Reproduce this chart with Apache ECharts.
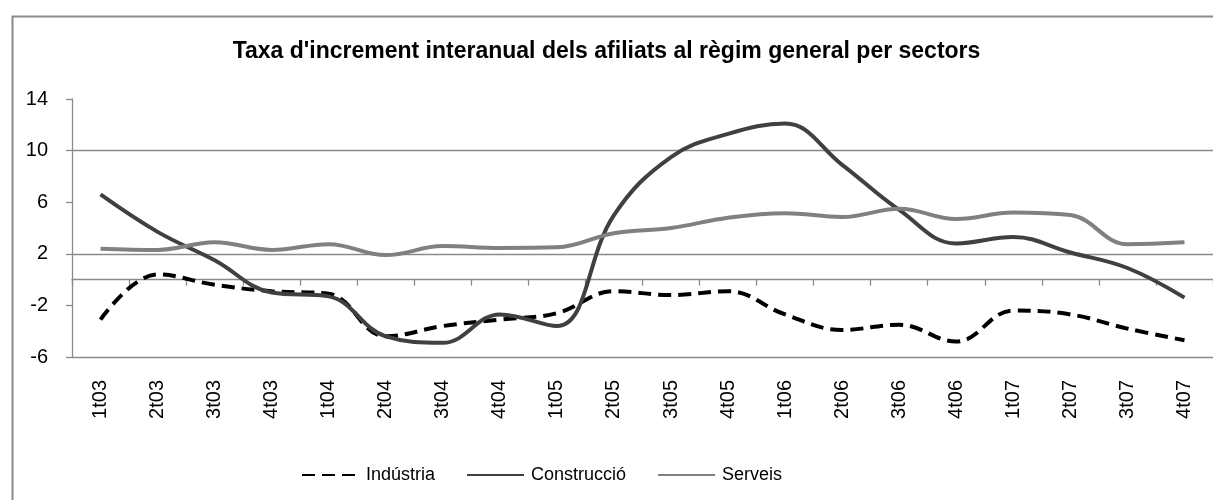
<!DOCTYPE html>
<html>
<head>
<meta charset="utf-8">
<script src="https://cdn.jsdelivr.net/npm/echarts@6/dist/echarts.min.js"></script>
<style>
  html, body { margin: 0; padding: 0; background: #fff; }
  #chart { width: 1213px; height: 500px; }
</style>
</head>
<body>
<div id="chart"></div>
<script>
var trimestres = ['1t03', '2t03', '3t03', '4t03', '1t04', '2t04', '3t04', '4t04', '1t05', '2t05',
                  '3t05', '4t05', '1t06', '2t06', '3t06', '4t06', '1t07', '2t07', '3t07', '4t07'];
var industria = [-3.1, 0.4, -0.4, -0.9, -1.1, -4.4, -3.6, -3.1, -2.6, -0.9,
                 -1.2, -0.9, -2.7, -3.9, -3.5, -4.8, -2.4, -2.7, -3.8, -4.7];
var construccio = [6.6, 3.7, 1.5, -1.0, -1.3, -4.4, -4.9, -2.7, -3.6, 5.0,
                   9.5, 11.3, 12.1, 8.9, 5.4, 2.8, 3.3, 2.1, 0.9, -1.4];
var serveis = [2.4, 2.3, 2.9, 2.3, 2.75, 1.9, 2.6, 2.45, 2.5, 3.6,
               4.0, 4.8, 5.15, 4.85, 5.5, 4.7, 5.2, 5.0, 2.75, 2.9];
var marquesY = [-6, -2, 2, 6, 10, 14];

var dom = document.getElementById('chart');
var myChart = echarts.init(dom, null, { renderer: 'canvas' });

var gris = '#8a8a8a';
var font = 'Liberation Sans, Arial, sans-serif';

var option = {
  animation: false,
  textStyle: { fontFamily: font },
  title: {
    text: "Taxa d'increment interanual dels afiliats al règim general per sectors",
    left: 'center',
    top: 35,
    textStyle: { fontSize: 23, fontWeight: 'bold', color: '#000', fontFamily: font }
  },
  graphic: [{
    type: 'rect',
    left: 10, top: 14,
    shape: { width: 1260, height: 560 },
    style: { fill: 'none', stroke: gris, lineWidth: 2 },
    silent: true
  }],
  legend: {
    left: 296,
    top: 461,
    itemWidth: 57,
    itemHeight: 4,
    itemGap: 31,
    itemStyle: { opacity: 0 },
    textStyle: { fontSize: 18, color: '#000', fontFamily: font, padding: [0, 0, 0, 2] },
    data: ['Indústria', 'Construcció', 'Serveis']
  },
  grid: { left: 72, top: 99, width: 1156, height: 258 },
  xAxis: [
    {
      type: 'category',
      data: trimestres,
      position: 'bottom',
      boundaryGap: true,
      axisLine: { show: false, onZero: false },
      axisTick: { show: false },
      axisLabel: { rotate: 90, margin: 23, fontSize: 20, color: '#000', fontFamily: font },
      splitLine: { show: false }
    },
    {
      type: 'category',
      data: trimestres,
      position: 'top',
      boundaryGap: true,
      axisLine: { show: true, onZero: true, lineStyle: { color: gris, width: 1.3 } },
      axisTick: { show: true, inside: true, length: 6, lineStyle: { color: gris, width: 1.3 } },
      axisLabel: { show: false },
      splitLine: { show: false }
    }
  ],
  yAxis: {
    type: 'value',
    min: -6,
    max: 14,
    interval: 2,
    axisLine: { show: true, lineStyle: { color: gris, width: 1.3 } },
    axisTick: { show: true, length: 6, customValues: marquesY, lineStyle: { color: gris, width: 1.3 } },
    axisLabel: {
      margin: 24,
      fontSize: 20,
      color: '#000',
      fontFamily: font,
      customValues: marquesY,
      formatter: function (v) { return marquesY.indexOf(v) >= 0 ? String(v) : ''; }
    },
    splitLine: { show: true, lineStyle: { color: [gris, 'rgba(0,0,0,0)'], width: 1.3 } }
  },
  series: [
    {
      name: 'Indústria',
      type: 'line',
      xAxisIndex: 0,
      data: industria,
      smooth: 0.4,
      symbol: 'none',
      lineStyle: { color: '#000', width: 4, type: [13, 7] },
      itemStyle: { color: '#000' }
    },
    {
      name: 'Construcció',
      type: 'line',
      xAxisIndex: 0,
      data: construccio,
      smooth: 0.4,
      symbol: 'none',
      lineStyle: { color: '#404040', width: 4 },
      itemStyle: { color: '#404040' }
    },
    {
      name: 'Serveis',
      type: 'line',
      xAxisIndex: 0,
      data: serveis,
      smooth: 0.4,
      symbol: 'none',
      lineStyle: { color: '#808080', width: 4 },
      itemStyle: { color: '#808080' }
    }
  ]
};

if (option && typeof option === 'object') {
  myChart.setOption(option);
}

window.addEventListener('resize', myChart.resize);
</script>
</body>
</html>
